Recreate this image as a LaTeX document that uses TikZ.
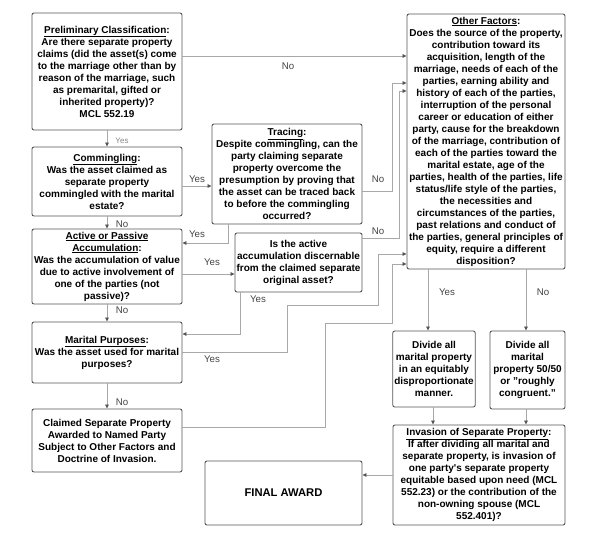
\documentclass[tikz,border=0pt]{standalone}
\usepackage{fontspec}
\setmainfont{Liberation Sans}
\usetikzlibrary{arrows.meta}
\definecolor{boxline}{HTML}{555555}
\definecolor{connline}{HTML}{A8A8A8}
\definecolor{tipcol}{HTML}{555555}
\definecolor{lblcol}{HTML}{444444}
\definecolor{lbllight}{HTML}{888888}
\tikzset{
  box/.style={draw=boxline, line width=0.9pt, rounded corners=2pt, fill=white,
    align=center, inner xsep=1.5pt, inner ysep=1pt,
    font=\fontsize{10}{12}\selectfont\bfseries, text=black},
  conn/.style={draw=connline, line width=0.8pt,
    -{Triangle[length=4pt,width=3.6pt,color=tipcol]}},
  lbl/.style={font=\fontsize{9.7}{11}\selectfont, text=lblcol, inner sep=0pt},
  lbls/.style={font=\fontsize{8}{10}\selectfont, text=lbllight, inner sep=0pt}
}
\begin{document}
\begin{tikzpicture}[x=1pt,y=-1pt]
\useasboundingbox (0,0) rectangle (600,540);
\fill[white] (0,0) rectangle (600,540);

% nodes
\node[box, minimum width=150pt, minimum height=117pt] (prelim) at (107,71.5)
 {\underline{Preliminary Classification}:\\Are there separate property\\claims (did the asset(s) come\\to the marriage other than by\\reason of the marriage, such\\as premarital, gifted or\\inherited property)?\\MCL 552.19};
\node[box, minimum width=150pt, minimum height=69pt] (comm) at (107,181.5)
 {\underline{Commingling}:\\Was the asset claimed as\\separate property\\commingled with the marital\\estate?};
\node[box, minimum width=150pt, minimum height=75pt] (active) at (107,266.5)
 {\underline{Active or Passive}\\\underline{Accumulation}:\\Was the accumulation of value\\due to active involvement of\\one of the parties (not\\passive)?};
\node[box, minimum width=150pt, minimum height=61pt] (marital) at (107,352.5)
 {\underline{Marital Purposes}:\\Was the asset used for marital\\purposes?};
\node[box, minimum width=150pt, minimum height=63pt] (claimed) at (107,440.5)
 {Claimed Separate Property\\Awarded to Named Party\\Subject to Other Factors and\\Doctrine of Invasion.};
\node[box, minimum width=157pt, minimum height=64pt, font=\fontsize{11.2}{13}\selectfont\bfseries] (final) at (283.5,493)
 {FINAL AWARD};
\node[box, minimum width=150pt, minimum height=100pt] (tracing) at (287,174)
 {\underline{Tracing}:\\Despite commingling, can the\\party claiming separate\\property overcome the\\presumption by proving that\\the asset can be traced back\\to before the commingling\\occurred?};
\node[box, minimum width=127pt, minimum height=59pt] (isactive) at (298.5,262.5)
 {Is the active\\accumulation discernable\\from the claimed separate\\original asset?};
\node[box, minimum width=158pt, minimum height=255pt] (other) at (486,141.5)
 {\underline{Other Factors}:\\Does the source of the property,\\contribution toward its\\acquisition, length of the\\marriage, needs of each of the\\parties, earning ability and\\history of each of the parties,\\interruption of the personal\\career or education of either\\party, cause for the breakdown\\of the marriage, contribution of\\each of the parties toward the\\marital estate, age of the\\parties, health of the parties, life\\status/life style of the parties,\\the necessities and\\circumstances of the parties,\\past relations and conduct of\\the parties, general principles of\\equity, require a different\\disposition?};
\node[box, minimum width=82pt, minimum height=76pt] (equit) at (434,369)
 {Divide all\\marital property\\in an equitably\\disproportionate\\manner.};
\node[box, minimum width=75pt, minimum height=78pt] (fifty) at (527.5,370)
 {Divide all\\marital\\property 50/50\\or "roughly\\congruent."};
\node[box, minimum width=172pt, minimum height=100pt] (invasion) at (479,475)
 {\underline{Invasion of Separate Property}:\\If after dividing all marital and\\separate property, is invasion of\\one party\textquotesingle s separate property\\equitable based upon need (MCL\\552.23) or the contribution of the\\non-owning spouse (MCL\\552.401)?};

% connectors
\draw[conn] (prelim.east |- 0,56) -- (other.west |- 0,56);
\draw[conn] (prelim.south) -- (comm.north);
\draw[conn] (comm.east |- 0,186) -- (tracing.west |- 0,186);
\draw[conn] (comm.south) -- (active.north);
\draw[conn] (tracing.south -| 228,0) |- (active.east |- 0,243);
\draw[conn] (tracing.east |- 0,191) -| (392,83) -- (other.west |- 0,83);
\draw[conn] (isactive.east |- 0,238) -| (399,91) -- (other.west |- 0,91);
\draw[conn] (active.east |- 0,274) -- (isactive.west |- 0,274);
\draw[conn] (active.south) -- (marital.north);
\draw[conn] (isactive.south -| 240,0) |- (marital.east |- 0,334);
\draw[conn] (marital.east |- 0,352) -| (287,305) -| (378,254) -- (other.west |- 0,254);
\draw[conn] (claimed.east |- 0,427) -| (325,323) -| (392,264) -- (other.west |- 0,264);
\draw[conn] (marital.south) -- (claimed.north);
\draw[conn] (other.south -| 428,0) -- (equit.north -| 428,0);
\draw[conn] (other.south -| 526,0) -- (fifty.north -| 526,0);
\draw[conn] (equit.south -| 433,0) -- (invasion.north -| 433,0);
\draw[conn] (fifty.south -| 526,0) -- (invasion.north -| 526,0);
\draw[conn] (invasion.west) -- (final.east |- invasion.west);

% labels
\node[lbl] (l1) at (288,66) {No};
\node[lbls] (l2) at (122,141) {Yes};
\node[lbl] (l3) at (197,179) {Yes};
\node[lbl] (l4) at (122,224) {No};
\node[lbl] (l5) at (197,234) {Yes};
\node[lbl] (l6) at (378,179) {No};
\node[lbl] (l7) at (378,231) {No};
\node[lbl] (l8) at (212,262) {Yes};
\node[lbl] (l9) at (258,299) {Yes};
\node[lbl] (l10) at (122,310) {No};
\node[lbl] (l11) at (212,359) {Yes};
\node[lbl] (l12) at (122,402) {No};
\node[lbl] (l13) at (447,292) {Yes};
\node[lbl] (l14) at (543,292) {No};
\end{tikzpicture}
\end{document}
